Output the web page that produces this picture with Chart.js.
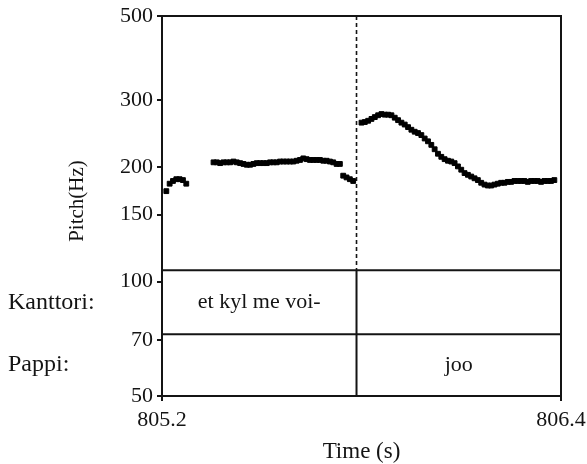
<!DOCTYPE html>
<html><head><meta charset="utf-8">
<script src="https://cdn.jsdelivr.net/npm/chart.js@4/dist/chart.umd.min.js"></script>
<style>html,body{margin:0;padding:0;background:#fff}#wrap{width:587px;height:464px;position:relative}</style>
</head><body><div id="wrap"><canvas id="c" width="587" height="464"></canvas></div>
<script>
// ---- data ----
const xTicks = [805.2, 806.4];
const yTicks = [50, 70, 100, 150, 200, 300, 500];

const seg1Times = [805.213, 805.223, 805.233, 805.243, 805.253, 805.263, 805.273];
const seg1Hz    = [173, 181, 184, 186, 186, 185, 181];

const seg2Times = [805.355, 805.365, 805.375, 805.385, 805.395, 805.405, 805.415, 805.425, 805.435, 805.445,
                   805.455, 805.465, 805.475, 805.485, 805.495, 805.505, 805.515, 805.525, 805.535, 805.545,
                   805.555, 805.565, 805.575, 805.585, 805.595, 805.605, 805.615, 805.625, 805.635, 805.645,
                   805.655, 805.665, 805.675, 805.685, 805.695, 805.705, 805.715, 805.725, 805.735];
const seg2Hz    = [206, 206, 205, 206, 206, 206, 207, 206, 205, 204,
                   203, 203, 204, 205, 205, 205, 205, 206, 206, 206,
                   207, 207, 207, 207, 207, 208, 209, 211, 210, 209,
                   209, 209, 209, 208, 208, 207, 206, 204, 204];

const seg3Times = [805.745, 805.755, 805.765, 805.775];
const seg3Hz    = [190, 188, 186, 184];

const seg4Times = [805.80, 805.81, 805.82, 805.83, 805.84, 805.85, 805.86, 805.87, 805.88, 805.89,
                   805.90, 805.91, 805.92, 805.93, 805.94, 805.95, 805.96, 805.97, 805.98, 805.99,
                   806.00, 806.01, 806.02, 806.03, 806.04, 806.05, 806.06, 806.07, 806.08, 806.09,
                   806.10, 806.11, 806.12, 806.13, 806.14, 806.15, 806.16, 806.17, 806.18, 806.19,
                   806.20, 806.21, 806.22, 806.23, 806.24, 806.25, 806.26, 806.27, 806.28, 806.29,
                   806.30, 806.31, 806.32, 806.33, 806.34, 806.35, 806.36, 806.37, 806.38];
const seg4Hz    = [262, 263, 265, 268, 271, 274, 276, 275, 275, 274,
                   270, 266, 262, 259, 255, 251, 248, 246, 243, 238,
                   234, 229, 223, 217, 213, 210, 208, 207, 205, 201,
                   197, 193, 191, 189, 187, 185, 182, 180, 179, 179,
                   180, 181, 182, 182, 183, 183, 184, 184, 184, 184,
                   183, 184, 184, 184, 183, 184, 184, 184, 185];

const boundaryTime = 805.785;          // speaker turn boundary (s)
const tierLinesHz  = [107.1, 72.7];    // tier separators on the Hz axis
const tierNames    = ['Kanttori:', 'Pappi:'];
const tierLabels   = ['et kyl me voi-', 'joo'];
const tierStarts   = [805.2, 805.785];
const tierEnds     = [805.785, 806.4];

// ---- build ----
const FONT = 'Liberation Serif, Times New Roman, serif';
const INK = '#141414';
const xMin = xTicks[0], xMax = xTicks[xTicks.length - 1];
const yMin = yTicks[0], yMax = yTicks[yTicks.length - 1];

function pts(t, v) { return t.map((x, i) => ({ x: x, y: v[i] })); }
const pitchStyle = { type: 'scatter', showLine: false, pointStyle: 'rect', pointRadius: 3.4,
  pointBackgroundColor: '#000', pointBorderColor: '#000', pointBorderWidth: 1, pointHoverRadius: 3.4 };

const lineStyle = { type: 'line', pointRadius: 0, borderColor: INK, borderWidth: 2, fill: false, tension: 0 };

const datasets = [
  Object.assign({ data: pts(seg1Times, seg1Hz) }, pitchStyle),
  Object.assign({ data: pts(seg2Times, seg2Hz) }, pitchStyle),
  Object.assign({ data: pts(seg3Times, seg3Hz) }, pitchStyle),
  Object.assign({ data: pts(seg4Times, seg4Hz) }, pitchStyle),
  Object.assign({ data: [{ x: xMin, y: tierLinesHz[0] }, { x: xMax, y: tierLinesHz[0] }] }, lineStyle),
  Object.assign({ data: [{ x: xMin, y: tierLinesHz[1] }, { x: xMax, y: tierLinesHz[1] }] }, lineStyle),
  Object.assign({ data: [{ x: boundaryTime, y: yMax }, { x: boundaryTime, y: tierLinesHz[0] }] }, lineStyle, { borderDash: [4, 3], borderWidth: 1.6 }),
  Object.assign({ data: [{ x: boundaryTime, y: tierLinesHz[0] }, { x: boundaryTime, y: yMin }] }, lineStyle)
];

const textPlugin = {
  id: 'texts',
  afterDraw(chart) {
    const { ctx, chartArea: a, scales } = chart;
    const xs = scales.x, ys = scales.y;
    ctx.save();
    // frame top & right
    ctx.strokeStyle = INK; ctx.lineWidth = 2;
    ctx.beginPath();
    ctx.moveTo(a.left - 1, a.top); ctx.lineTo(a.right, a.top); ctx.lineTo(a.right, a.bottom + 1);
    ctx.stroke();
    ctx.fillStyle = INK;
    // tier names and labels
    const bounds = [ys.getPixelForValue(tierLinesHz[0]), ys.getPixelForValue(tierLinesHz[1]), a.bottom];
    ctx.textBaseline = 'middle';
    for (let i = 0; i < tierNames.length; i++) {
      const yc = (bounds[i] + bounds[i + 1]) / 2;
      ctx.font = '24px ' + FONT;
      ctx.textAlign = 'left';
      ctx.fillText(tierNames[i], 8, yc);
      ctx.font = '22px ' + FONT;
      ctx.textAlign = 'center';
      const xc = (xs.getPixelForValue(tierStarts[i]) + xs.getPixelForValue(tierEnds[i])) / 2;
      ctx.fillText(tierLabels[i], xc, yc);
    }
    // axis titles
    ctx.textAlign = 'center';
    ctx.font = '23px ' + FONT;
    ctx.fillText('Time (s)', (a.left + a.right) / 2, 452);
    ctx.font = '21px ' + FONT;
    ctx.translate(77, (a.top + a.bottom) / 2 - 5);
    ctx.rotate(-Math.PI / 2);
    ctx.fillText('Pitch(Hz)', 0, 0);
    ctx.restore();
  }
};

new Chart(document.getElementById('c'), {
  data: { datasets: datasets },
  options: {
    responsive: false, animation: false, devicePixelRatio: 1,
    layout: { padding: { left: 0, right: 26, top: 16, bottom: 0 } },
    plugins: { legend: { display: false }, tooltip: { enabled: false } },
    scales: {
      x: {
        type: 'linear', min: xMin, max: xMax,
        afterBuildTicks: s => { s.ticks = xTicks.map(v => ({ value: v })); },
        afterFit: s => { s.height = 68; s.paddingLeft = 0; s.paddingRight = 0; },
        ticks: { callback: v => v.toFixed(1), color: INK, font: { family: FONT, size: 22 }, padding: 6, maxRotation: 0, autoSkip: false },
        grid: { drawOnChartArea: false, drawTicks: true, tickLength: 5, color: INK, lineWidth: 2 },
        border: { display: true, color: INK, width: 2 }
      },
      y: {
        type: 'logarithmic', min: yMin, max: yMax,
        afterBuildTicks: s => { s.ticks = yTicks.map(v => ({ value: v })); },
        afterFit: s => { s.width = 162; s.paddingTop = 0; s.paddingBottom = 0; },
        ticks: { callback: v => String(v), color: INK, font: { family: FONT, size: 22 }, padding: 4, autoSkip: false },
        grid: { drawOnChartArea: false, drawTicks: true, tickLength: 5, color: INK, lineWidth: 2 },
        border: { display: true, color: INK, width: 2 }
      }
    }
  },
  plugins: [textPlugin]
});
</script></body></html>
